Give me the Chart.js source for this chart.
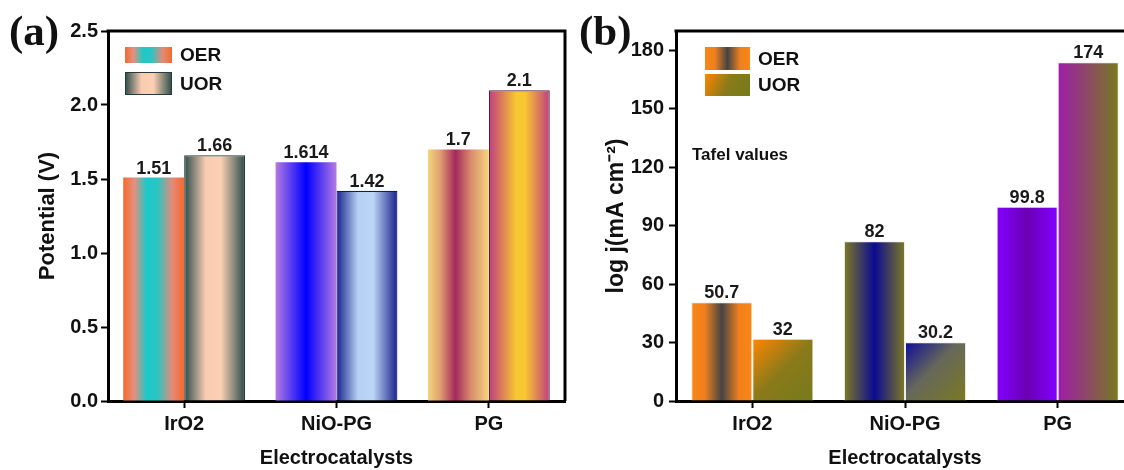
<!doctype html>
<html>
<head>
<meta charset="utf-8">
<title>OER / UOR electrocatalysts</title>
<script src="https://cdn.jsdelivr.net/npm/chart.js@4.4.1/dist/chart.umd.min.js"></script>
<style>
  html, body { margin: 0; padding: 0; background: #fff; }
  #wrap { position: relative; width: 1124px; height: 470px; overflow: hidden; }
  canvas { position: absolute; top: 0; }
  #potChart { left: 0; }
  #tafelChart { left: 572px; }
</style>
</head>
<body>
<div id="wrap">
  <canvas id="potChart" width="572" height="470"></canvas>
  <canvas id="tafelChart" width="590" height="470"></canvas>
</div>

<script>
// data
var categories = ['IrO2', 'NiO-PG', 'PG'];
var seriesNames = ['OER', 'UOR'];
var potentialOER = [1.51, 1.614, 1.7];
var potentialUOR = [1.66, 1.42, 2.1];
var tafelOER = [50.7, 82, 99.8];
var tafelUOR = [32, 30.2, 174];

// bar fills, one per bar (h = across the bar, d = diagonal)
var potFillOER = [
    {dir: 'h', stops: [[0, '#f46a2c'], [0.18, '#e5907e'], [0.38, '#1ec8c8'], [0.56, '#28c6c4'], [0.8, '#e48a78'], [1, '#f46a2c']]},
    {dir: 'h', stops: [[0, '#b47ae2'], [0.5, '#0000ff'], [1, '#b47ae2']]},
    {dir: 'h', stops: [[0, '#f4d67c'], [0.2, '#e0a070'], [0.45, '#a4285c'], [0.7, '#d88a6c'], [1, '#f4d67c']]}
];
var potFillUOR = [
    {dir: 'h', stops: [[0, '#2a4c4a'], [0.35, '#f8ccb2'], [0.6, '#fdd0b4'], [1, '#2a4c4a']]},
    {dir: 'h', stops: [[0, '#18228c'], [0.35, '#b4d0f2'], [0.6, '#bcd6f6'], [1, '#18228c']]},
    {dir: 'h', stops: [[0, '#c03c80'], [0.45, '#f8c830'], [0.6, '#f8c632'], [1, '#c03c80']]}
];
var tafelFillOER = [
    {dir: 'h', stops: [[0, '#fa8614'], [0.22, '#f0801e'], [0.5, '#444444'], [0.78, '#f0801e'], [1, '#fa8614']]},
    {dir: 'h', stops: [[0, '#7e7a22'], [0.5, '#0a0a92'], [1, '#7e7a22']]},
    {dir: 'h', stops: [[0, '#8200ff'], [0.5, '#6c00b4'], [1, '#8200ff']]}
];
var tafelFillUOR = [
    {dir: 'd', stops: [[0, '#ff8600'], [0.5, '#8a7a1a'], [1, '#767a1c']]},
    {dir: 'd', stops: [[0, '#0c0c9a'], [0.45, '#66685a'], [1, '#7a7a20']]},
    {dir: 'h', stops: [[0, '#a01caa'], [1, '#767a1e']]}
];

var CAT_PCT = 0.8;

Chart.defaults.font.family = '"Liberation Sans", Arial, sans-serif';
Chart.defaults.font.weight = 'bold';
Chart.defaults.color = '#111';

function makeGrad(ctx, spec, x, y, w, h) {
    var g = spec.dir === 'd' ? ctx.createLinearGradient(x, y, x + w, y + h)
                             : ctx.createLinearGradient(x, 0, x + w, 0);
    spec.stops.forEach(function (s) { g.addColorStop(s[0], s[1]); });
    return g;
}

// gradient placed on the bar, worked out from the chart's scales
function paint(specs) {
    return function (c) {
        var spec = specs[c.dataIndex];
        var chart = c.chart;
        if (!chart.chartArea || c.type !== 'data') return spec.stops[0][1];
        var xs = chart.scales.x, ys = chart.scales.y;
        var cat = (xs.right - xs.left) / chart.data.labels.length;
        var w = cat * CAT_PCT / chart.data.datasets.length;
        var left = xs.getPixelForValue(c.dataIndex) - cat * CAT_PCT / 2 + c.datasetIndex * w;
        var top = ys.getPixelForValue(c.raw), bottom = ys.getPixelForValue(0);
        return makeGrad(chart.ctx, spec, left, top, w, bottom - top);
    };
}

var deco = {
    id: 'deco',
    afterDatasetsDraw: function (chart, args, o) {
        var ctx = chart.ctx;
        ctx.save();
        ctx.fillStyle = '#1a1a1a';
        ctx.font = 'bold 18px "Liberation Sans", Arial, sans-serif';
        ctx.textAlign = 'center';
        ctx.textBaseline = 'alphabetic';
        chart.data.datasets.forEach(function (ds, i) {
            chart.getDatasetMeta(i).data.forEach(function (bar, j) {
                ctx.fillText(String(ds.data[j]), bar.x, bar.y - 4);
            });
        });
        ctx.restore();
    },
    afterDraw: function (chart, args, o) {
        var ctx = chart.ctx, a = chart.chartArea;
        ctx.save();
        // frame
        ctx.strokeStyle = '#000';
        ctx.lineWidth = 3;
        ctx.beginPath();
        ctx.moveTo(a.left - 1.5, a.top);
        ctx.lineTo(a.right, a.top);
        if (o.rightBorder) ctx.lineTo(a.right, a.bottom);
        ctx.stroke();

        // panel tag
        ctx.fillStyle = '#111';
        ctx.font = 'bold 43px "Liberation Serif", "Times New Roman", serif';
        ctx.textAlign = 'left';
        ctx.textBaseline = 'alphabetic';
        ctx.fillText(o.tag, o.tagX, 45);

        // legend
        ctx.font = 'bold 19px "Liberation Sans", Arial, sans-serif';
        ctx.textBaseline = 'middle';
        o.boxes.forEach(function (b, i) {
            ctx.fillStyle = makeGrad(ctx, o.fills[i][0], b[0], b[1], b[2], b[3]);
            ctx.fillRect(b[0], b[1], b[2], b[3]);
            if (o.boxLine[i]) {
                ctx.strokeStyle = o.boxLine[i];
                ctx.lineWidth = 1;
                ctx.strokeRect(b[0] + 0.5, b[1] + 0.5, b[2] - 1, b[3] - 1);
            }
            ctx.fillStyle = '#111';
            ctx.fillText(chart.data.datasets[i].label, b[0] + b[2] + 8, b[1] + b[3] / 2 + 1);
        });

        if (o.note) {
            ctx.font = 'bold 17px "Liberation Sans", Arial, sans-serif';
            ctx.fillText(o.note, o.noteX, o.noteY);
        }
        ctx.restore();
    }
};

function scales(yMax, step, yTitle, titleSize, titlePad, yWidth, tickPad, fmt) {
    return {
        x: {
            grid: {display: true, offset: false, drawOnChartArea: false, drawTicks: true,
                   tickLength: 7, tickWidth: 2, tickColor: '#000'},
            border: {display: true, width: 3, color: '#000'},
            ticks: {font: {size: 20, weight: 'bold'}, color: '#111', padding: 4},
            title: {display: true, text: 'Electrocatalysts', font: {size: 20, weight: 'bold'},
                    color: '#111', padding: {top: 0, bottom: 0}},
            afterFit: function (s) { s.height = 69; }
        },
        y: {
            min: 0,
            max: yMax,
            grid: {display: true, drawOnChartArea: false, drawTicks: true,
                   tickLength: 7, tickWidth: 2, tickColor: '#000'},
            border: {display: true, width: 3, color: '#000'},
            ticks: {stepSize: step, includeBounds: false, font: {size: 20, weight: 'bold'},
                    color: '#111', padding: tickPad, callback: fmt},
            title: {display: true, text: yTitle, font: {size: titleSize, weight: 'bold'},
                    color: '#111', padding: {top: titlePad, bottom: 0}},
            afterFit: function (s) { s.width = yWidth; }
        }
    };
}

new Chart(document.getElementById('potChart'), {
    type: 'bar',
    data: {
        labels: categories,
        datasets: [
            {label: seriesNames[0], data: potentialOER, backgroundColor: paint(potFillOER),
             borderWidth: 0, categoryPercentage: CAT_PCT, barPercentage: 1},
            {label: seriesNames[1], data: potentialUOR, backgroundColor: paint(potFillUOR),
             borderColor: ['#2a3a3a', '#101a70', '#5a2040'], borderWidth: 1.2,
             categoryPercentage: CAT_PCT, barPercentage: 1}
        ]
    },
    options: {
        responsive: false,
        animation: false,
        devicePixelRatio: 1,
        layout: {padding: {left: 0, top: 31, right: 7, bottom: 0}},
        scales: scales(2.5, 0.5, 'Potential (V)', 22, 35, 108, 3,
                       function (v) { return Number(v).toFixed(1); }),
        plugins: {
            legend: {display: false},
            tooltip: {enabled: false},
            deco: {
                tag: '(a)', tagX: 9, rightBorder: true,
                boxes: [[125, 47, 47, 16], [125, 72, 47, 23]],
                boxLine: [null, '#2a3a3a'],
                fills: [potFillOER, potFillUOR]
            }
        }
    },
    plugins: [deco]
});

new Chart(document.getElementById('tafelChart'), {
    type: 'bar',
    data: {
        labels: categories,
        datasets: [
            {label: seriesNames[0], data: tafelOER, backgroundColor: paint(tafelFillOER),
             borderColor: 'rgba(235,235,235,0.9)', borderWidth: 1,
             categoryPercentage: CAT_PCT, barPercentage: 1},
            {label: seriesNames[1], data: tafelUOR, backgroundColor: paint(tafelFillUOR),
             borderColor: 'rgba(235,235,235,0.9)', borderWidth: 1,
             categoryPercentage: CAT_PCT, barPercentage: 1}
        ]
    },
    options: {
        responsive: false,
        animation: false,
        devicePixelRatio: 1,
        layout: {padding: {left: 0, top: 31, right: 28, bottom: 0}},
        scales: scales(190, 30, 'log j(mA cm\u207B\u00B2)', 23, 31, 104, 5),
        plugins: {
            legend: {display: false},
            tooltip: {enabled: false},
            deco: {
                tag: '(b)', tagX: 7, rightBorder: false,
                boxes: [[133, 47, 45, 23], [133, 74, 45, 22]],
                boxLine: [null, null],
                fills: [tafelFillOER, tafelFillUOR],
                note: 'Tafel values', noteX: 120, noteY: 155
            }
        }
    },
    plugins: [deco]
});
</script>
</body>
</html>
